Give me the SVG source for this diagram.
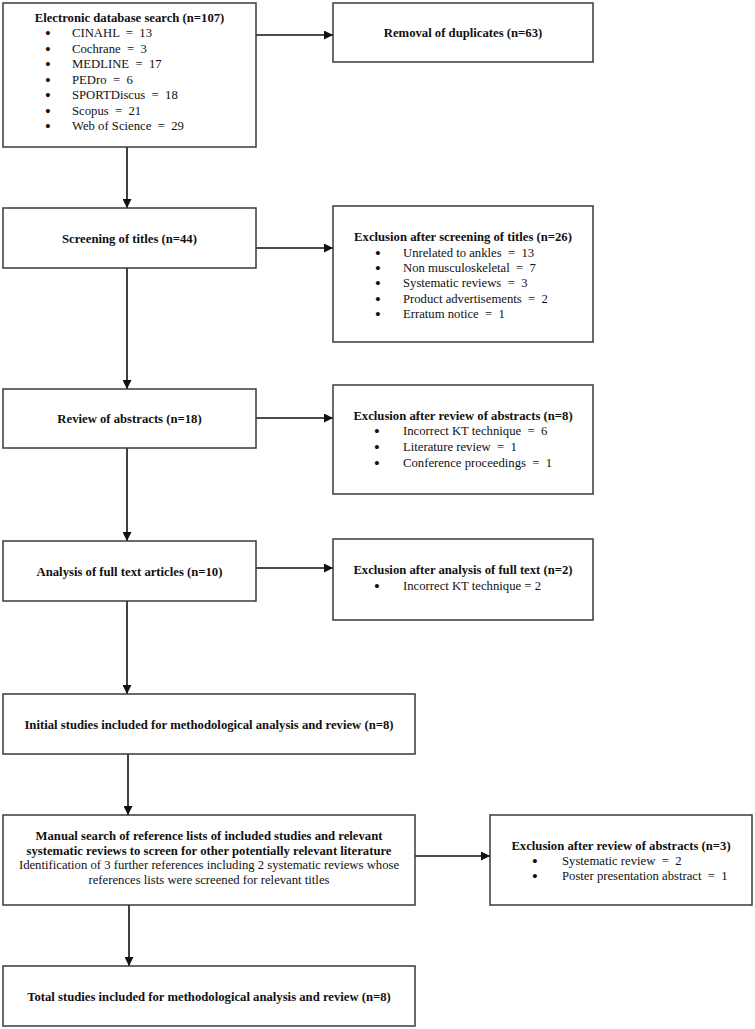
<svg xmlns="http://www.w3.org/2000/svg" width="755" height="1029" viewBox="0 0 755 1029">
<style>
  .box { fill: #fff; stroke: #3a3a3a; stroke-width: 1.5; }
  .t { font-family: "Liberation Serif", "Times New Roman", serif; font-size: 12.7px; fill: #111; white-space: pre; }
  .b { font-weight: bold; }
  .c { text-anchor: middle; }
  .bu { font-family: "Liberation Serif", "Times New Roman", serif; font-size: 15px; font-weight: bold; fill: #111; text-anchor: middle; }
  .con { stroke: #111; stroke-width: 1.6; fill: none; marker-end: url(#ah); }
</style>
<defs>
  <marker id="ah" viewBox="0 0 10 10" refX="10" refY="5" markerWidth="10" markerHeight="9" markerUnits="userSpaceOnUse" orient="auto">
    <path d="M0,0 L10,5 L0,10 z" fill="#111"/>
  </marker>
</defs>
<rect width="755" height="1029" fill="#fff"/>

<g id="connectors">
  <line class="con" x1="256" y1="35" x2="333" y2="35"/>
  <line class="con" x1="127" y1="147" x2="127" y2="208"/>
  <line class="con" x1="256" y1="248" x2="333" y2="248"/>
  <line class="con" x1="127" y1="268" x2="127" y2="389"/>
  <line class="con" x1="256" y1="418" x2="333" y2="418"/>
  <line class="con" x1="127" y1="448" x2="127" y2="541"/>
  <line class="con" x1="256" y1="568" x2="333" y2="568"/>
  <line class="con" x1="127" y1="601" x2="127" y2="694"/>
  <line class="con" x1="128" y1="754" x2="128" y2="815"/>
  <line class="con" x1="415" y1="856" x2="490" y2="856"/>
  <line class="con" x1="129" y1="905" x2="129" y2="966"/>
</g>

<g id="n-search">
  <rect class="box" x="3" y="3" width="253" height="144"/>
  <text class="t b c" x="129.5" y="22">Electronic database search (n=107)</text>
  <text class="bu" x="48" y="38">•</text><text class="t" x="72" y="37">CINAHL  =  13</text>
  <text class="bu" x="48" y="53.5">•</text><text class="t" x="72" y="52.5">Cochrane  =  3</text>
  <text class="bu" x="48" y="69">•</text><text class="t" x="72" y="68">MEDLINE  =  17</text>
  <text class="bu" x="48" y="84.5">•</text><text class="t" x="72" y="83.5">PEDro  =  6</text>
  <text class="bu" x="48" y="100">•</text><text class="t" x="72" y="99">SPORTDiscus  =  18</text>
  <text class="bu" x="48" y="115.5">•</text><text class="t" x="72" y="114.5">Scopus  =  21</text>
  <text class="bu" x="48" y="131">•</text><text class="t" x="72" y="130">Web of Science  =  29</text>
</g>

<g id="n-duplicates">
  <rect class="box" x="333" y="3" width="260" height="59"/>
  <text class="t b c" x="463" y="37">Removal of duplicates (n=63)</text>
</g>

<g id="n-screening">
  <rect class="box" x="3" y="208" width="253" height="60"/>
  <text class="t b c" x="129.5" y="243">Screening of titles (n=44)</text>
</g>

<g id="n-excl-titles">
  <rect class="box" x="333" y="206" width="260" height="136"/>
  <text class="t b c" x="463" y="240.5">Exclusion after screening of titles (n=26)</text>
  <text class="bu" x="378" y="257.5">•</text><text class="t" x="403" y="256.5">Unrelated to ankles  =  13</text>
  <text class="bu" x="378" y="272.5">•</text><text class="t" x="403" y="271.5">Non musculoskeletal  =  7</text>
  <text class="bu" x="378" y="288">•</text><text class="t" x="403" y="287">Systematic reviews  =  3</text>
  <text class="bu" x="378" y="303.5">•</text><text class="t" x="403" y="302.5">Product advertisements  =  2</text>
  <text class="bu" x="378" y="319">•</text><text class="t" x="403" y="318">Erratum notice  =  1</text>
</g>

<g id="n-abstracts">
  <rect class="box" x="3" y="389" width="253" height="59"/>
  <text class="t b c" x="129.5" y="423">Review of abstracts (n=18)</text>
</g>

<g id="n-excl-abstracts">
  <rect class="box" x="333" y="385" width="260" height="109"/>
  <text class="t b c" x="463" y="419.5">Exclusion after review of abstracts (n=8)</text>
  <text class="bu" x="377" y="435.5">•</text><text class="t" x="403" y="434.5">Incorrect KT technique  =  6</text>
  <text class="bu" x="377" y="451.5">•</text><text class="t" x="403" y="450.5">Literature review  =  1</text>
  <text class="bu" x="377" y="467.5">•</text><text class="t" x="403" y="466.5">Conference proceedings  =  1</text>
</g>

<g id="n-fulltext">
  <rect class="box" x="3" y="541" width="253" height="60"/>
  <text class="t b c" x="129.5" y="575.5">Analysis of full text articles (n=10)</text>
</g>

<g id="n-excl-fulltext">
  <rect class="box" x="333" y="539" width="260" height="81"/>
  <text class="t b c" x="463" y="573.5">Exclusion after analysis of full text (n=2)</text>
  <text class="bu" x="377" y="591">•</text><text class="t" x="403" y="590">Incorrect KT technique = 2</text>
</g>

<g id="n-initial">
  <rect class="box" x="3" y="694" width="412" height="60"/>
  <text class="t b c" x="209" y="728.5">Initial studies included for methodological analysis and review (n=8)</text>
</g>

<g id="n-manual">
  <rect class="box" x="3" y="815" width="412" height="90"/>
  <text class="t b c" x="209" y="839.5">Manual search of reference lists of included studies and relevant</text>
  <text class="t b c" x="209" y="854.5">systematic reviews to screen for other potentially relevant literature</text>
  <text class="t c" x="209" y="868.5">Identification of 3 further references including 2 systematic reviews whose</text>
  <text class="t c" x="209" y="883.5">references lists were screened for relevant titles</text>
</g>

<g id="n-excl-manual">
  <rect class="box" x="490" y="815" width="262" height="90"/>
  <text class="t b c" x="621" y="849.5">Exclusion after review of abstracts (n=3)</text>
  <text class="bu" x="535" y="865.5">•</text><text class="t" x="562" y="864.5">Systematic review  =  2</text>
  <text class="bu" x="535" y="880.5">•</text><text class="t" x="562" y="879.5">Poster presentation abstract  =  1</text>
</g>

<g id="n-total">
  <rect class="box" x="3" y="966" width="412" height="60"/>
  <text class="t b c" x="209" y="1000.5">Total studies included for methodological analysis and review (n=8)</text>
</g>
</svg>
